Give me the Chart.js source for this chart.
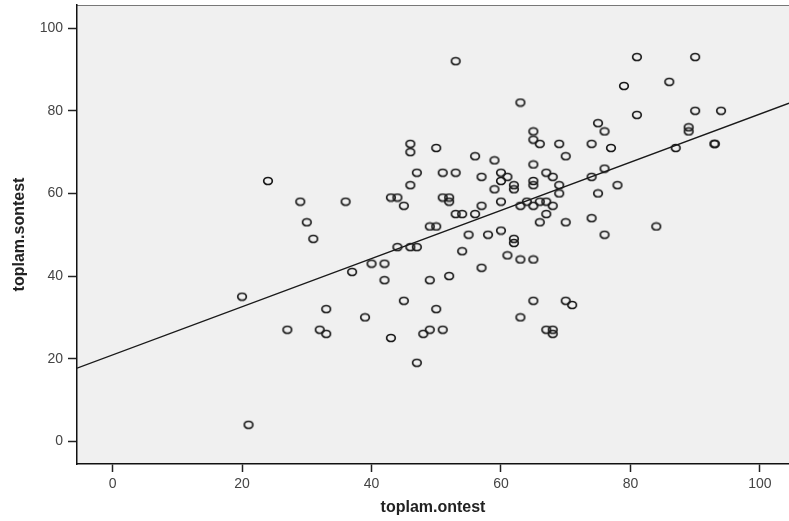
<!DOCTYPE html>
<html>
<head>
<meta charset="utf-8">
<script src="https://cdn.jsdelivr.net/npm/chart.js@4.4.1/dist/chart.umd.min.js"></script>
<style>
    html, body { margin: 0; padding: 0; background: #fff; }
    canvas { display: block; }
</style>
</head>
<body>
<canvas id="chart" width="789" height="521"></canvas>
<script>
// 数据：toplam.ontest (x) / toplam.sontest (y)
const ontest = [
    53, 81, 90, 79, 86, 63, 81, 90, 94, 75, 76, 89, 89, 69, 74, 70, 77, 87, 93, 93,
    76, 74, 65, 65, 66, 46, 46, 50, 56, 59, 65, 47, 51, 53, 57, 60, 61, 67, 68, 60,
    65, 65, 69, 62, 62, 59, 46, 44, 45, 51, 52, 52, 60, 57, 53, 54, 56, 64, 63, 65,
    66, 67, 68, 69, 67, 66, 70, 49, 50, 44, 46, 47, 55, 58, 60, 62, 62, 54, 61, 63,
    65, 57, 52, 49, 45, 50, 65, 70, 24, 29, 36, 43, 30, 31, 40, 42, 37, 42, 20, 33,
    39, 27, 32, 33, 43, 21, 63, 48, 49, 51, 67, 68, 68, 47, 75, 78, 74, 76, 84, 71
];
const sontest = [
    92, 93, 93, 86, 87, 82, 79, 80, 80, 77, 75, 76, 75, 72, 72, 69, 71, 71, 72, 72,
    66, 64, 75, 73, 72, 72, 70, 71, 69, 68, 67, 65, 65, 65, 64, 65, 64, 65, 64, 63,
    63, 62, 62, 62, 61, 61, 62, 59, 57, 59, 59, 58, 58, 57, 55, 55, 55, 58, 57, 57,
    58, 58, 57, 60, 55, 53, 53, 52, 52, 47, 47, 47, 50, 50, 51, 49, 48, 46, 45, 44,
    44, 42, 40, 39, 34, 32, 34, 34, 63, 58, 58, 59, 53, 49, 43, 43, 41, 39, 35, 32,
    30, 27, 27, 26, 25, 4, 30, 26, 27, 27, 27, 27, 26, 19, 60, 62, 54, 50, 52, 33
];

// 坐标轴
const xTicks = [0, 20, 40, 60, 80, 100];
const yTicks = [0, 20, 40, 60, 80, 100];
const xRange = [-5.5, 104.5];
const yRange = [-5.5, 105.6];

// 回归线
const fitIntercept = 20.9;
const fitSlope = 0.583;

const points = ontest.map((x, i) => ({ x: x, y: sontest[i] }));
const fitLine = xRange.map(x => ({ x: x, y: fitIntercept + fitSlope * x }));

// 空心椭圆点
const ring = document.createElement('canvas');
ring.width = 12;
ring.height = 10;
const rc = ring.getContext('2d');
rc.strokeStyle = '#1a1a1a';
rc.lineWidth = 1.7;
rc.beginPath();
rc.ellipse(6, 5, 4.3, 3.5, 0, 0, Math.PI * 2);
rc.stroke();

// 绘图区背景
const plotBackground = {
    id: 'plotBackground',
    beforeDraw(chart) {
        const { ctx, chartArea: a } = chart;
        ctx.save();
        ctx.fillStyle = '#f0f0f0';
        ctx.fillRect(a.left, a.top, a.right - a.left, a.bottom - a.top);
        ctx.strokeStyle = '#777';
        ctx.lineWidth = 1;
        ctx.beginPath();
        ctx.moveTo(a.left, a.top + 0.5);
        ctx.lineTo(a.right, a.top + 0.5);
        ctx.stroke();
        ctx.restore();
    }
};

const fontFamily = '"Liberation Sans", Arial, sans-serif';

new Chart(document.getElementById('chart'), {
    type: 'scatter',
    data: {
        datasets: [{
            type: 'scatter',
            data: points,
            pointStyle: ring,
            pointRadius: 5,
            order: 1
        }, {
            type: 'line',
            data: fitLine,
            borderColor: '#1a1a1a',
            borderWidth: 1.4,
            pointRadius: 0,
            fill: false,
            order: 0
        }]
    },
    options: {
        responsive: false,
        animation: false,
        layout: { autoPadding: false, padding: { top: 5, right: 0, left: 0, bottom: 0 } },
        plugins: {
            legend: { display: false },
            tooltip: { enabled: false }
        },
        scales: {
            x: {
                type: 'linear',
                min: xRange[0],
                max: xRange[1],
                afterBuildTicks: s => { s.ticks = xTicks.map(v => ({ value: v })); },
                afterFit: s => { s.height = 57; s.paddingLeft = 0; s.paddingRight = 0; },
                grid: { drawOnChartArea: false, drawTicks: true, tickLength: 8, tickWidth: 1.5, tickColor: '#222' },
                border: { display: true, color: '#111', width: 1.5 },
                ticks: { color: '#444', font: { family: fontFamily, size: 14 }, padding: 4, maxRotation: 0 },
                title: {
                    display: true,
                    text: 'toplam.ontest',
                    color: '#222',
                    font: { family: fontFamily, size: 16, weight: 'bold' },
                    padding: { top: 0, bottom: 4 }
                }
            },
            y: {
                type: 'linear',
                min: yRange[0],
                max: yRange[1],
                afterBuildTicks: s => { s.ticks = yTicks.map(v => ({ value: v })); },
                afterFit: s => { s.width = 77; s.paddingTop = 0; s.paddingBottom = 0; },
                grid: { drawOnChartArea: false, drawTicks: true, tickLength: 9, tickWidth: 1.5, tickColor: '#222' },
                border: { display: true, color: '#111', width: 1.5 },
                ticks: { color: '#444', font: { family: fontFamily, size: 14 }, padding: 5 },
                title: {
                    display: true,
                    text: 'toplam.sontest',
                    color: '#222',
                    font: { family: fontFamily, size: 16, weight: 'bold' },
                    padding: { top: 9.5, bottom: 0 }
                }
            }
        }
    },
    plugins: [plotBackground]
});
</script>
</body>
</html>
